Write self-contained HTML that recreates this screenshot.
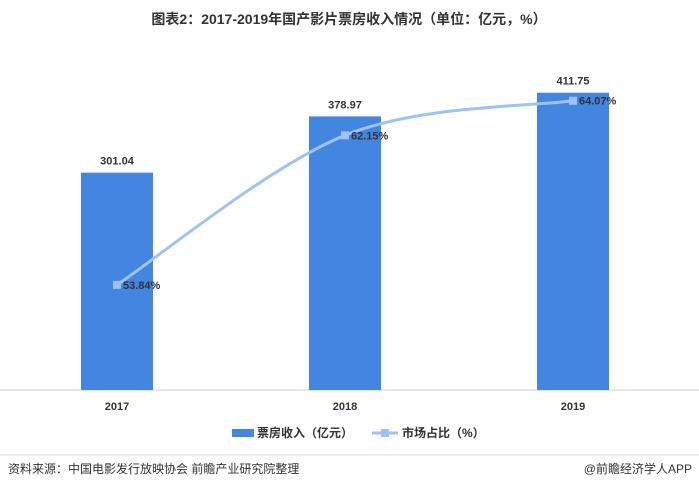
<!DOCTYPE html>
<html><head><meta charset="utf-8"><style>
body{margin:0;background:#fff;width:699px;height:490px;overflow:hidden;font-family:"Liberation Sans","Noto Sans CJK SC",sans-serif;}
</style></head><body>
<svg id="c" width="699" height="490" xmlns="http://www.w3.org/2000/svg">
<text x="349" y="24" text-anchor="middle" font-size="14" font-weight="bold" fill="#333" font-family="Liberation Sans, Noto Sans CJK SC, sans-serif">图表2：2017-2019年国产影片票房收入情况（单位：亿元，%）</text>
<line x1="0" y1="390" x2="699" y2="390" stroke="#ccc"/>
<g id="bars"></g><g id="line"></g>
<g>
<rect x="232" y="429" width="22" height="8" fill="#4286e2"/>
<text x="257" y="437" font-size="12" font-weight="bold" fill="#333">票房收入（亿元）</text>
<line x1="372" y1="433" x2="398" y2="433" stroke="#9dc3f5" stroke-width="3"/>
<rect x="381" y="429" width="8" height="8" fill="#9dc3f5"/>
<text x="402" y="437" font-size="12" font-weight="bold" fill="#333">市场占比（%）</text>
</g>
<line x1="0" y1="455" x2="699" y2="455" stroke="#ddd"/>
<text x="8" y="473" font-size="12" fill="#333">资料来源：中国电影发行放映协会 前瞻产业研究院整理</text>
<text x="692" y="473" font-size="12" fill="#333" text-anchor="end">@前瞻经济学人APP</text>
</svg>
<script>
const years=["2017","2018","2019"];
const revenue=[301.04,378.97,411.75];
const share=[53.84,62.15,64.07];
const ns="http://www.w3.org/2000/svg";
const xc=i=>117+i*228;
const yb=v=>390-v*0.722;
const yl=v=>390-(v-48)*18;
function mk(t,a,p){const e=document.createElementNS(ns,t);for(const k in a)e.setAttribute(k,a[k]);p.appendChild(e);return e;}
const B=document.getElementById('bars'),L=document.getElementById('line');
years.forEach((y,i)=>{
 const r=mk('rect',{x:xc(i)-36,y:yb(revenue[i]),width:72,height:390-yb(revenue[i]),fill:'#4286e2'},B);
 
 
 const t=mk('text',{x:xc(i),y:yb(revenue[i])-8,'text-anchor':'middle','font-size':11,'font-weight':'bold',fill:'#333'},B);
 t.textContent=revenue[i].toFixed(2);
 
 
 const xl=mk('text',{x:xc(i),y:410,'text-anchor':'middle','font-size':11,'font-weight':'bold',fill:'#333'},B);
 xl.textContent=y;
 
 
});
const P=share.map((v,i)=>[xc(i),yl(v)]);
let d='M'+P[0][0]+','+P[0][1];
for(let i=0;i<P.length-1;i++){
 const p0=P[i-1]||P[i],p1=P[i],p2=P[i+1],p3=P[i+2]||P[i+1];
 d+=' C'+(p1[0]+(p2[0]-p0[0])/6)+','+(p1[1]+(p2[1]-p0[1])/6)+' '+(p2[0]-(p3[0]-p1[0])/6)+','+(p2[1]-(p3[1]-p1[1])/6)+' '+p2[0]+','+p2[1];
}
const pa=mk('path',{d:d,fill:'none',stroke:'#9dc3f5','stroke-width':3},L);


share.forEach((v,i)=>{
 const m=mk('rect',{x:xc(i)-4,y:yl(v)-4,width:8,height:8,fill:'#9dc3f5'},L);
 
 
 const t=mk('text',{x:xc(i)+6,y:yl(v)+4,'font-size':11,'font-weight':'bold',fill:'#333'},L);
 t.textContent=v.toFixed(2)+'%';
 
 
});
</script>
</body></html>
